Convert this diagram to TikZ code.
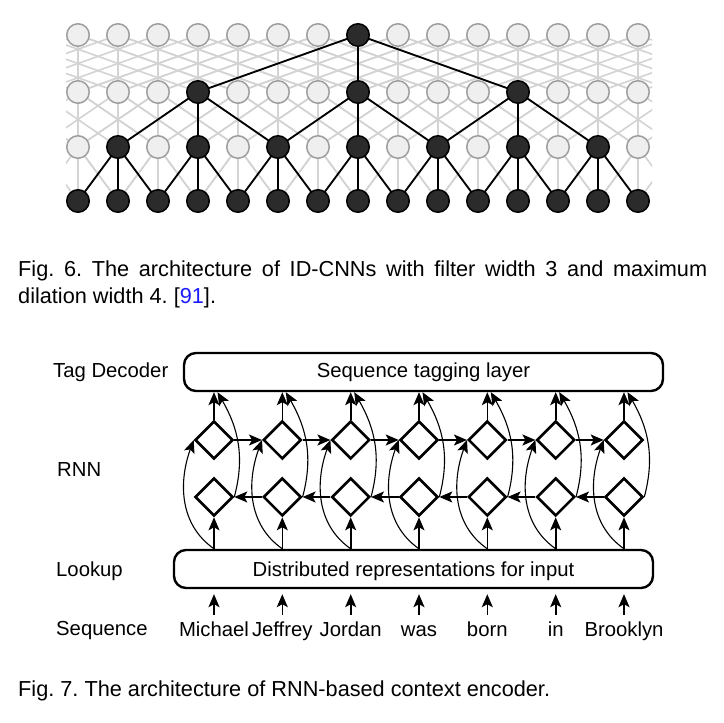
\documentclass[tikz,border=0pt]{standalone}
\usepackage{fontspec}
\setmainfont{Liberation Sans}
\usetikzlibrary{arrows.meta,shapes.geometric,calc}
\definecolor{gline}{HTML}{D3D3D3}
\definecolor{gfill}{HTML}{EFEFEF}
\definecolor{gdraw}{HTML}{9E9E9E}
\definecolor{bfill}{HTML}{2B2B2B}
\definecolor{refblue}{HTML}{1A1AFF}
\newcommand\capfnt{\fontsize{21.7pt}{26pt}\selectfont}
\newcommand\dfnt{\fontsize{20.3pt}{24pt}\selectfont}
\frenchspacing
\begin{document}
\begin{tikzpicture}[x=1pt,y=1pt,
  gnode/.style={circle,draw=gdraw,fill=gfill,line width=1.5pt,minimum size=22.5pt,inner sep=0pt},
  bnode/.style={circle,draw=black,fill=bfill,line width=1.5pt,minimum size=22.5pt,inner sep=0pt},
  glink/.style={draw=gline,line width=1.6pt},
  blink/.style={draw=black,line width=1.8pt},
  dia/.style={diamond,draw=black,line width=2.6pt,minimum size=38pt,inner sep=0pt},
  bigbox/.style={rectangle,draw=black,line width=2.4pt,rounded corners=12pt,minimum height=38pt,minimum width=479pt,inner sep=0pt},
  lbl/.style={font=\dfnt,inner sep=0pt},
  captxt/.style={font=\capfnt,inner sep=0pt,anchor=base west},
  arr/.style={line width=1.6pt,-{Stealth[length=13pt,width=11pt,inset=3pt]}},
  carr/.style={line width=1.1pt,-{Stealth[length=13pt,width=11pt,inset=3pt]}}]
\useasboundingbox (0,0) rectangle (724,723);
% ---------- Fig. 6 : ID-CNN ----------
\foreach \rr/\yy in {0/688,1/631,2/576,3/522}{
  \foreach \cc in {-4,...,18}{
    \coordinate (p-\rr-\cc) at ({78+40*\cc},\yy);
  }
}
\begin{scope}
\clip (66,500) rectangle (652,710);
\foreach \u/\d in {0/4,1/2,2/1}{
  \pgfmathtruncatemacro\lw{\u+1}
  \foreach \cc in {0,...,14}{
    \pgfmathtruncatemacro\aa{\cc-\d}
    \pgfmathtruncatemacro\bb{\cc+\d}
    \draw[glink] (p-\u-\cc) -- (p-\lw-\cc);
    \draw[glink] (p-\u-\cc) -- (p-\lw-\aa);
    \draw[glink] (p-\u-\cc) -- (p-\lw-\bb);
    \draw[glink] (p-\lw-\cc) -- (p-\u-\aa);
    \draw[glink] (p-\lw-\cc) -- (p-\u-\bb);
  }
}
\end{scope}
\foreach \m in {3,7,11}{ \draw[blink] (p-0-7) -- (p-1-\m); }
\foreach \m in {3,7,11}{
  \pgfmathtruncatemacro\aa{\m-2}
  \pgfmathtruncatemacro\bb{\m+2}
  \draw[blink] (p-1-\m) -- (p-2-\aa);
  \draw[blink] (p-1-\m) -- (p-2-\m);
  \draw[blink] (p-1-\m) -- (p-2-\bb);
}
\foreach \m in {1,3,...,13}{
  \pgfmathtruncatemacro\aa{\m-1}
  \pgfmathtruncatemacro\bb{\m+1}
  \draw[blink] (p-2-\m) -- (p-3-\aa);
  \draw[blink] (p-2-\m) -- (p-3-\m);
  \draw[blink] (p-2-\m) -- (p-3-\bb);
}
\foreach \cc in {0,...,6,8,9,...,14}{ \node[gnode] (n-0-\cc) at (p-0-\cc) {}; }
\node[bnode] (n-0-7) at (p-0-7) {};
\foreach \cc in {0,1,2,4,5,6,8,9,10,12,13,14}{ \node[gnode] (n-1-\cc) at (p-1-\cc) {}; }
\foreach \cc in {3,7,11}{ \node[bnode] (n-1-\cc) at (p-1-\cc) {}; }
\foreach \cc in {0,2,...,14}{ \node[gnode] (n-2-\cc) at (p-2-\cc) {}; }
\foreach \cc in {1,3,...,13}{ \node[bnode] (n-2-\cc) at (p-2-\cc) {}; }
\foreach \cc in {0,...,14}{ \node[bnode] (n-3-\cc) at (p-3-\cc) {}; }
\node[captxt] (cap6a) at (18,446) {\makebox[689pt][s]{Fig. 6. The architecture of ID-CNNs with filter width 3 and maximum}};
\node[captxt] (cap6b) at (18,419) {dilation width 4. [\textcolor{refblue}{91}].};
% ---------- Fig. 7 : RNN encoder ----------
\node[bigbox] (tag) at (423.5,351) {};
\node[lbl,anchor=base] (tagtxt) at (423.5,345) {Sequence tagging layer};
\node[bigbox] (look) at (413.5,154) {};
\node[lbl,anchor=base] (looktxt) at (413.5,146) {Distributed representations for input};
\node[lbl,anchor=base west] (ltag) at (53,345) {Tag Decoder};
\node[lbl,anchor=base west] (lrnn) at (57,246) {RNN};
\node[lbl,anchor=base west] (llook) at (56,146) {Lookup};
\node[lbl,anchor=base west] (lseq) at (56,87) {Sequence};
\foreach \i/\xx/\w in {1/214/Michael,2/282.3/Jeffrey,3/350.7/Jordan,4/419/was,5/487.3/born,6/555.7/in,7/624/Brooklyn}{
  \node[dia] (up-\i) at (\xx,283) {};
  \node[dia] (lo-\i) at (\xx,226) {};
  \node[lbl,anchor=base] (w-\i) at (\xx,86) {\w};
}
\foreach \i in {1,...,7}{
  \draw[arr] (look.north -| lo-\i) -- (lo-\i.south);
  \draw[arr] (up-\i.north) -- (tag.south -| up-\i);
  \draw[carr] (look.north -| lo-\i) to[out=145,in=-110] (up-\i.west);
  \draw[carr] (lo-\i.east) to[out=75,in=-60] ($(tag.south -| up-\i)+(3.5,0)$);
  \draw[arr] ($(w-\i.base)+(0,22)$) -- ($(look.south -| w-\i)+(0,-5)$);
}
\foreach \i [count=\j from 2] in {1,...,6}{
  \draw[arr] (up-\i.east) -- (up-\j.west);
  \draw[arr] (lo-\j.west) -- (lo-\i.east);
}
\node[captxt] (cap7) at (18,26) {Fig. 7. The architecture of RNN-based context encoder.};
\end{tikzpicture}
\end{document}
